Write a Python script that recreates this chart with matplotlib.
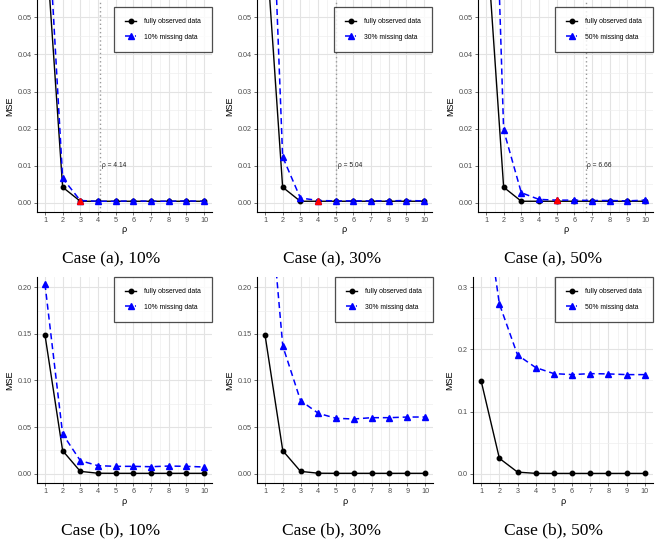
import matplotlib
matplotlib.use("Agg")
import matplotlib.pyplot as plt
from matplotlib.ticker import MultipleLocator

plt.rcParams['font.family'] = ['Liberation Sans', 'DejaVu Sans']

rho = [1, 2, 3, 4, 5, 6, 7, 8, 9, 10]
xtick_labels = [str(r) for r in rho]

full_a = [0.074, 0.0042, 0.0004, 0.0004, 0.0004, 0.0004, 0.0004, 0.0004, 0.0004, 0.0004]
miss_a10 = [0.091, 0.0066, 0.0006, 0.0004, 0.0004, 0.0005, 0.0004, 0.0004, 0.0005, 0.0004]
miss_a30 = [0.137, 0.0124, 0.0013, 0.0006, 0.0005, 0.0005, 0.0005, 0.0005, 0.0006, 0.0005]
miss_a50 = [0.172, 0.0196, 0.0027, 0.0009, 0.0007, 0.0007, 0.0006, 0.0006, 0.0005, 0.0007]

full_b = [0.149, 0.0247, 0.0025, 0.0005, 0.0004, 0.0004, 0.0004, 0.0004, 0.0004, 0.0004]
miss_b10 = [0.2036, 0.0426, 0.0140, 0.0086, 0.0079, 0.0079, 0.0075, 0.0082, 0.0079, 0.0072]
miss_b30 = [0.354, 0.137, 0.0784, 0.0648, 0.0594, 0.0587, 0.0601, 0.0601, 0.0608, 0.0608]
miss_b50 = [0.477, 0.2732, 0.191, 0.1707, 0.161, 0.1594, 0.161, 0.1605, 0.1594, 0.1594]

pct_labels = ["10%", "30%", "50%"]
best_rho = [3, 4, 5]
rho_hat = [4.14, 5.04, 6.66]
captions_a = ["Case (a), 10%", "Case (a), 30%", "Case (a), 50%"]
captions_b = ["Case (b), 10%", "Case (b), 30%", "Case (b), 50%"]

W, H = 660, 546
fig = plt.figure(figsize=(W / 100, H / 100), dpi=100)


def ax_at(x0, y0, x1, y1):
    return fig.add_axes([x0 / W, 1 - y1 / H, (x1 - x0) / W, (y1 - y0) / H])


def style(ax, ylim, ymaj, ymin_, yfmt):
    ax.set_xlim(0.55, 10.45)
    ax.set_ylim(*ylim)
    ax.set_xticks(rho)
    ax.set_xticklabels(xtick_labels)
    ax.xaxis.set_minor_locator(MultipleLocator(0.5))
    ax.yaxis.set_major_locator(MultipleLocator(ymaj))
    ax.yaxis.set_minor_locator(MultipleLocator(ymin_))
    ax.yaxis.set_major_formatter(plt.FormatStrFormatter(yfmt))
    ax.grid(True, which='major', color='#E3E3E3', lw=0.8, zorder=0)
    ax.grid(True, which='minor', color='#EEEEEE', lw=0.5, zorder=0)
    ax.set_axisbelow(True)
    for s in ['top', 'right']:
        ax.spines[s].set_visible(False)
    for s in ['left', 'bottom']:
        ax.spines[s].set_color('black')
        ax.spines[s].set_linewidth(0.8)
    ax.tick_params(which='major', length=2, width=0.5, color='#333333',
                   labelsize=5.2, labelcolor='#4D4D4D', pad=1.5)
    ax.tick_params(which='minor', length=0)
    ax.set_xlabel('ρ', fontsize=6.5, labelpad=1)
    ax.set_ylabel('MSE', fontsize=6.5, labelpad=3)


def draw(ax, full, miss, pct, anchor_y):
    ax.plot(rho, full, color='black', lw=1.0, marker='o', ms=3.2,
            label='fully observed data', zorder=3)
    ax.plot(rho, miss, color='#0000FF', lw=1.1, ls=(0, (4, 2.5)), marker='^', ms=3.8,
            label=pct + ' missing data', zorder=4)
    leg = ax.legend(loc='upper right', bbox_to_anchor=(1.0, anchor_y), fontsize=4.9,
                    frameon=True, fancybox=False, borderpad=1.6, labelspacing=1.25,
                    handlelength=1.6, handletextpad=1.2, borderaxespad=0)
    leg.get_frame().set_edgecolor('#222222')
    leg.get_frame().set_linewidth(0.9)
    leg.set_zorder(10)


# top row
top_x = [(37, 212), (257, 432), (478, 653)]
miss_a = [miss_a10, miss_a30, miss_a50]
cap_x = [111, 332, 553]
for i in range(3):
    x0, x1 = top_x[i]
    ax = ax_at(x0, 0, x1, 212)
    style(ax, (-0.0025, 0.0547), 0.01, 0.005, '%.2f')
    draw(ax, full_a, miss_a[i], pct_labels[i], 1 - 7.3 / 212)
    ax.axvline(rho_hat[i], color='#999999', lw=1.0, ls=(0, (1, 2)), zorder=2)
    ax.text(rho_hat[i] + 0.08, 0.0101, 'ρ = %.2f' % rho_hat[i], fontsize=4.8,
            ha='left', va='center', color='#222222')
    b = best_rho[i]
    ax.plot([b], [miss_a[i][b - 1]], marker='^', ms=4.2, color='red', ls='none', zorder=5)
    fig.text(cap_x[i] / W, 1 - 263 / H, captions_a[i],
             family='Liberation Serif', fontsize=12.5, ha='center', va='baseline')

# bottom row
bot_x = [(37, 212), (257, 433), (473, 653)]
miss_b = [miss_b10, miss_b30, miss_b50]
ylims_b = [(-0.0103, 0.2107), (-0.0103, 0.2107), (-0.0155, 0.316)]
ymaj_b = [0.05, 0.05, 0.1]
ymin_b = [0.025, 0.025, 0.05]
yfmt_b = ['%.2f', '%.2f', '%.1f']
for i in range(3):
    x0, x1 = bot_x[i]
    ax = ax_at(x0, 277.3, x1, 483.3)
    style(ax, ylims_b[i], ymaj_b[i], ymin_b[i], yfmt_b[i])
    draw(ax, full_b, miss_b[i], pct_labels[i], 1.0)
    fig.text(cap_x[i] / W, 1 - 534 / H, captions_b[i],
             family='Liberation Serif', fontsize=12.5, ha='center', va='baseline')

fig.savefig('out.png', dpi=100)
